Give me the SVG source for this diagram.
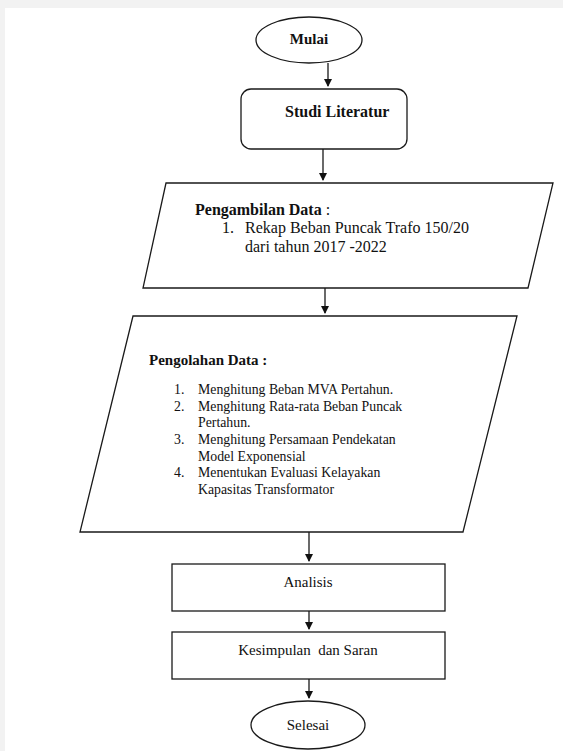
<svg xmlns="http://www.w3.org/2000/svg" width="563" height="751" viewBox="0 0 563 751">
<defs>
<marker id="ah" markerWidth="8" markerHeight="9" refX="7" refY="4" orient="auto" markerUnits="userSpaceOnUse">
<path d="M0,0 L8,4 L0,8 Z" fill="#111"/>
</marker>
<style>
.s{fill:#fff;stroke:#1a1a1a;stroke-width:1.3}
.c{fill:none;stroke:#1a1a1a;stroke-width:1.3;marker-end:url(#ah)}
.b{font-weight:bold}
</style>
</defs>
<rect x="0" y="0" width="563" height="751" fill="#f2f2f2"/>
<rect x="5" y="8" width="558" height="743" fill="#fff"/>
<g id="connectors">
<line class="c" x1="328" y1="63" x2="328" y2="86"/>
<line class="c" x1="323" y1="149" x2="323" y2="180"/>
<line class="c" x1="325" y1="288" x2="325" y2="313"/>
<line class="c" x1="309" y1="532" x2="309" y2="561"/>
<line class="c" x1="309" y1="611" x2="309" y2="629"/>
<line class="c" x1="309" y1="679" x2="309" y2="698"/>
</g>
<g font-family="'Liberation Serif', 'Times New Roman', serif" fill="#111">
<g id="mulai">
<ellipse class="s" cx="309" cy="40" rx="53" ry="23"/>
<text class="b" x="309" y="44" font-size="15" text-anchor="middle">Mulai</text>
</g>
<g id="studi">
<rect class="s" x="241" y="89" width="166" height="60" rx="10"/>
<text class="b" x="285" y="117" font-size="16">Studi Literatur</text>
</g>
<g id="pengambilan">
<polygon class="s" points="166,183 553,183 528,288 143,288"/>
<text x="195" y="215" font-size="16"><tspan class="b">Pengambilan Data</tspan> :</text>
<text x="222" y="233" font-size="16">1.</text>
<text x="245" y="233" font-size="16">Rekap Beban Puncak Trafo 150/20</text>
<text x="245" y="252" font-size="16">dari tahun 2017 -2022</text>
</g>
<g id="pengolahan">
<polygon class="s" points="133,316 517,316 463,532 80,532"/>
<text class="b" x="149" y="365" font-size="15">Pengolahan Data :</text>
<g font-size="13.8">
<text x="174" y="394">1.</text>
<text x="198" y="394">Menghitung Beban MVA Pertahun.</text>
<text x="174" y="411">2.</text>
<text x="198" y="411">Menghitung Rata-rata Beban Puncak</text>
<text x="198" y="427">Pertahun.</text>
<text x="174" y="444">3.</text>
<text x="198" y="444">Menghitung Persamaan Pendekatan</text>
<text x="198" y="461">Model Exponensial</text>
<text x="174" y="477">4.</text>
<text x="198" y="477">Menentukan Evaluasi Kelayakan</text>
<text x="198" y="494">Kapasitas Transformator</text>
</g>
</g>
<g id="analisis">
<rect class="s" x="172" y="564" width="273" height="47"/>
<text x="308" y="587" font-size="15" text-anchor="middle">Analisis</text>
</g>
<g id="kesimpulan">
<rect class="s" x="172" y="632" width="273" height="47"/>
<text x="308" y="655" font-size="15" text-anchor="middle" xml:space="preserve">Kesimpulan  dan Saran</text>
</g>
<g id="selesai">
<ellipse class="s" cx="308" cy="725" rx="57" ry="24"/>
<text x="308" y="730" font-size="15" text-anchor="middle">Selesai</text>
</g>
</g>
</svg>
